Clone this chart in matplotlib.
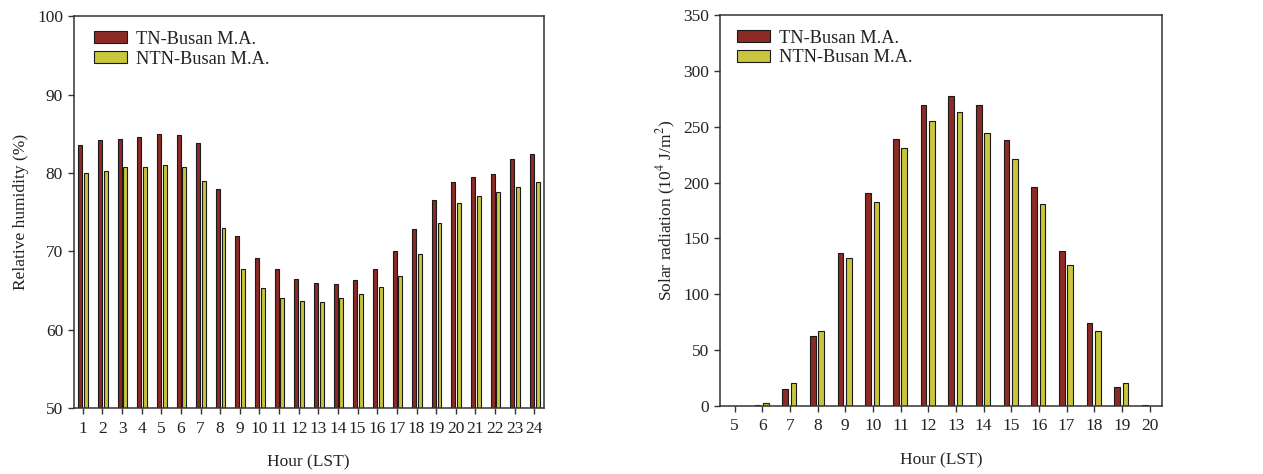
import matplotlib
matplotlib.use("Agg")
import matplotlib.pyplot as plt
import numpy as np

plt.rcParams['font.family'] = ['Liberation Serif', 'DejaVu Serif']
plt.rcParams['mathtext.fontset'] = 'stix'
plt.rcParams['font.size'] = 12.5

# Relative humidity (%) by hour
rh_hours = list(range(1, 25))
rh_tn = [83.6, 84.2, 84.3, 84.6, 84.9, 84.8, 83.8, 78.0, 72.0, 69.1, 67.8, 66.5,
         66.0, 65.8, 66.3, 67.8, 70.0, 72.8, 76.6, 78.8, 79.5, 79.8, 81.8, 82.4]
rh_ntn = [80.0, 80.3, 80.7, 80.7, 81.0, 80.8, 79.0, 73.0, 67.8, 65.3, 64.1, 63.6,
          63.5, 64.0, 64.5, 65.5, 66.9, 69.6, 73.6, 76.1, 77.0, 77.6, 78.2, 78.9]

# Solar radiation (10^4 J/m^2) by hour
sr_hours = list(range(5, 21))
sr_tn = [0, 1, 15, 63, 137, 191, 239, 269, 277, 269, 238, 196, 139, 74, 17, 1]
sr_ntn = [0, 2.4, 21, 67, 132, 183, 231, 255, 263, 244, 221, 181, 126, 67, 21, 0]

labels = ['TN-Busan M.A.', 'NTN-Busan M.A.']
c_tn = '#8c2a26'
c_ntn = '#c9c53c'
spine_col = '#333333'

fig = plt.figure(figsize=(12.63, 4.74), dpi=100)
ax1 = fig.add_axes([0.0582, 0.139, 0.3725, 0.827])
ax2 = fig.add_axes([0.570, 0.1435, 0.350, 0.825])


def draw(ax, hours, tn, ntn, w, off_tn, off_ntn, leg_x):
    x = np.array(hours)
    ax.bar(x + off_tn, tn, w, color=c_tn, edgecolor='#1a1a1a', linewidth=0.8, label=labels[0])
    ax.bar(x + off_ntn, ntn, w, color=c_ntn, edgecolor='#1a1a1a', linewidth=0.8, label=labels[1])
    ax.set_xticks(hours)
    ax.set_xticklabels([str(h) for h in hours])
    ax.tick_params(direction='out', length=4, width=1, colors=spine_col, labelcolor='#222222')
    ax.tick_params(axis='x', pad=5)
    for s in ax.spines.values():
        s.set_color(spine_col)
        s.set_linewidth(1.1)
    ax.set_xlabel('Hour (LST)', color='#222222', labelpad=13)
    leg = ax.legend(loc='upper left', frameon=False, fontsize=13.2, handlelength=1.8,
                    handleheight=0.6, handletextpad=0.5, labelspacing=0.15,
                    borderaxespad=0.4, bbox_to_anchor=(leg_x, 1.0))
    for t in leg.get_texts():
        t.set_color('#222222')


draw(ax1, rh_hours, rh_tn, rh_ntn, 0.2, -0.12, 0.17, 0.012)
ax1.set_xlim(0.53, 24.49)
ax1.set_ylim(50, 100)
ax1.set_yticks([50, 60, 70, 80, 90, 100])
ax1.set_ylabel('Relative humidity (%)', color='#222222', labelpad=6)

draw(ax2, sr_hours, sr_tn, sr_ntn, 0.21, -0.17, 0.13, 0.005)
ax2.set_xlim(4.47, 20.45)
ax2.set_ylim(0, 350)
ax2.set_yticks(range(0, 351, 50))
ax2.set_ylabel(r'Solar radiation (10$^4$ J/m$^2$)', color='#222222')

fig.savefig('out.png', dpi=100)
